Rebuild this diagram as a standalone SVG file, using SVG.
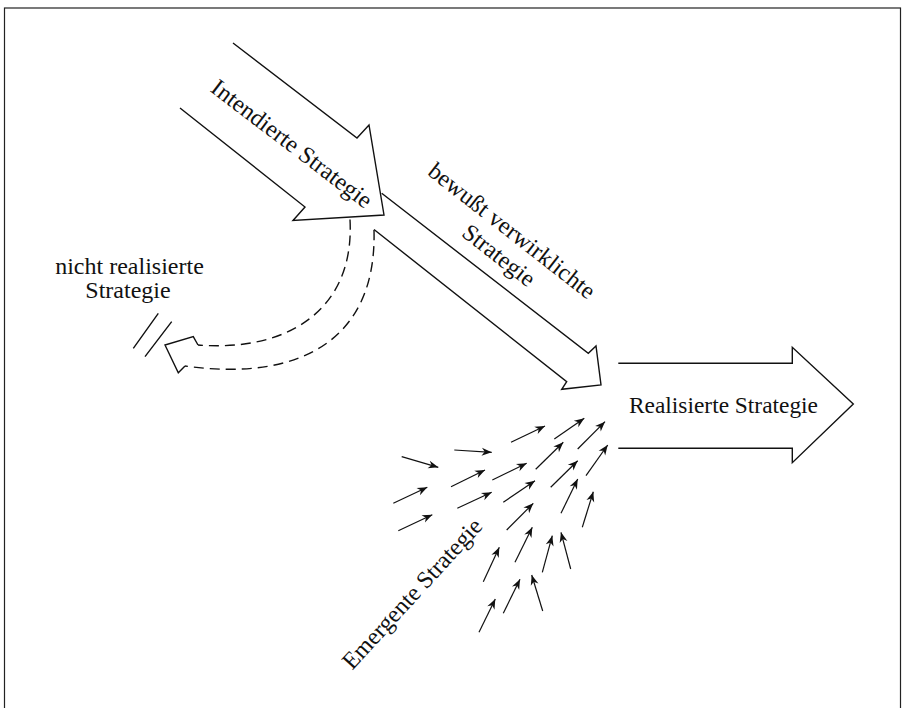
<svg xmlns="http://www.w3.org/2000/svg" width="903" height="708" viewBox="0 0 903 708">
<style>
.ln{fill:none;stroke:#111;stroke-width:1.4;stroke-linejoin:miter}
.ds{fill:none;stroke:#111;stroke-width:1.4;stroke-dasharray:10 6}
.sm{fill:none;stroke:#111;stroke-width:1.2;marker-end:url(#ah)}
.t{font-family:"Liberation Serif","Times New Roman",serif;font-size:24px;fill:#111}
</style>
<defs>
<marker id="ah" markerUnits="userSpaceOnUse" markerWidth="14" markerHeight="12" viewBox="-12 -6 14 12" refX="0" refY="0" orient="auto">
<path d="M0,0 L-10,-4 L-7,0 L-10,4 Z" fill="#111"/>
</marker>
</defs>
<rect x="4.5" y="8" width="896" height="720" fill="none" stroke="#222" stroke-width="1.2"/>
<g id="intended">
<path class="ln" d="M233,43 L357,138 L369,125 L384,215 L293,220.5 L305,207 L180,108"/>
<text class="t" transform="translate(287,150) rotate(37.3)" text-anchor="middle">Intendierte Strategie</text>
</g>
<g id="deliberate">
<path class="ln" d="M381.7,193.3 L588.3,353.3 L596,346 L601,385 L561.7,389.3 L566.7,381.7 L374,229.5"/>
<text class="t" transform="translate(507,237) rotate(38)" text-anchor="middle">bewußt verwirklichte</text>
<text class="t" transform="translate(494,261.5) rotate(38)" text-anchor="middle">Strategie</text>
</g>
<g id="unrealized">
<path class="ds" d="M350,219.5 C355,312 285,352 198,345"/>
<path class="ds" d="M374,230 C377,340 300,382 185,366"/>
<path class="ln" d="M198,345 L193.3,336.7 L165,345 L178.3,372.7 L185,366"/>
<path class="ln" d="M158.3,313.3 L133.3,348.3 M171.7,321.7 L145,356.7"/>
<text class="t" x="129.5" y="274" text-anchor="middle">nicht realisierte</text>
<text class="t" x="128" y="298" text-anchor="middle">Strategie</text>
</g>
<g id="realized">
<path class="ln" d="M618.3,363.3 L792.3,363.3 L792.3,347.3 L853.3,404 L792.3,462.7 L792.3,448.3 L618.3,448.3"/>
<text class="t" x="723.5" y="413" text-anchor="middle" style="font-size:23.4px">Realisierte Strategie</text>
</g>
<g id="emergent">
<path class="sm" d="M401.7,456.7 L438.3,467.3"/>
<path class="sm" d="M454.3,450 L491.7,452.3"/>
<path class="sm" d="M511,442.3 L545,426"/>
<path class="sm" d="M554.3,439 L584.3,418.3"/>
<path class="sm" d="M577.7,449 L605,421.7"/>
<path class="sm" d="M393.3,503.3 L427.3,487.3"/>
<path class="sm" d="M451,486.7 L485,470"/>
<path class="sm" d="M492.3,480 L526.7,463.3"/>
<path class="sm" d="M535.7,469.3 L563.3,442.3"/>
<path class="sm" d="M398.3,530.7 L432.3,514.7"/>
<path class="sm" d="M457.3,508.3 L491.7,492.3"/>
<path class="sm" d="M503.3,502.3 L535,480.7"/>
<path class="sm" d="M550.7,487.3 L577.7,460.7"/>
<path class="sm" d="M586,475.7 L607.7,445"/>
<path class="sm" d="M506.7,530 L533.3,503.3"/>
<path class="sm" d="M561,513.3 L577.7,479"/>
<path class="sm" d="M582.3,527.3 L593.3,491.7"/>
<path class="sm" d="M483.3,581.7 L499.3,547.3"/>
<path class="sm" d="M515,562.3 L532.3,527.3"/>
<path class="sm" d="M542.3,572.3 L552.3,535.7"/>
<path class="sm" d="M570.7,569 L561,532.3"/>
<path class="sm" d="M479,632.3 L495.3,599"/>
<path class="sm" d="M503.3,613.3 L520,579.3"/>
<path class="sm" d="M542.7,611 L531.7,575"/>
<text class="t" transform="translate(418,599) rotate(-47.5)" text-anchor="middle">Emergente Strategie</text>
</g>
</svg>
